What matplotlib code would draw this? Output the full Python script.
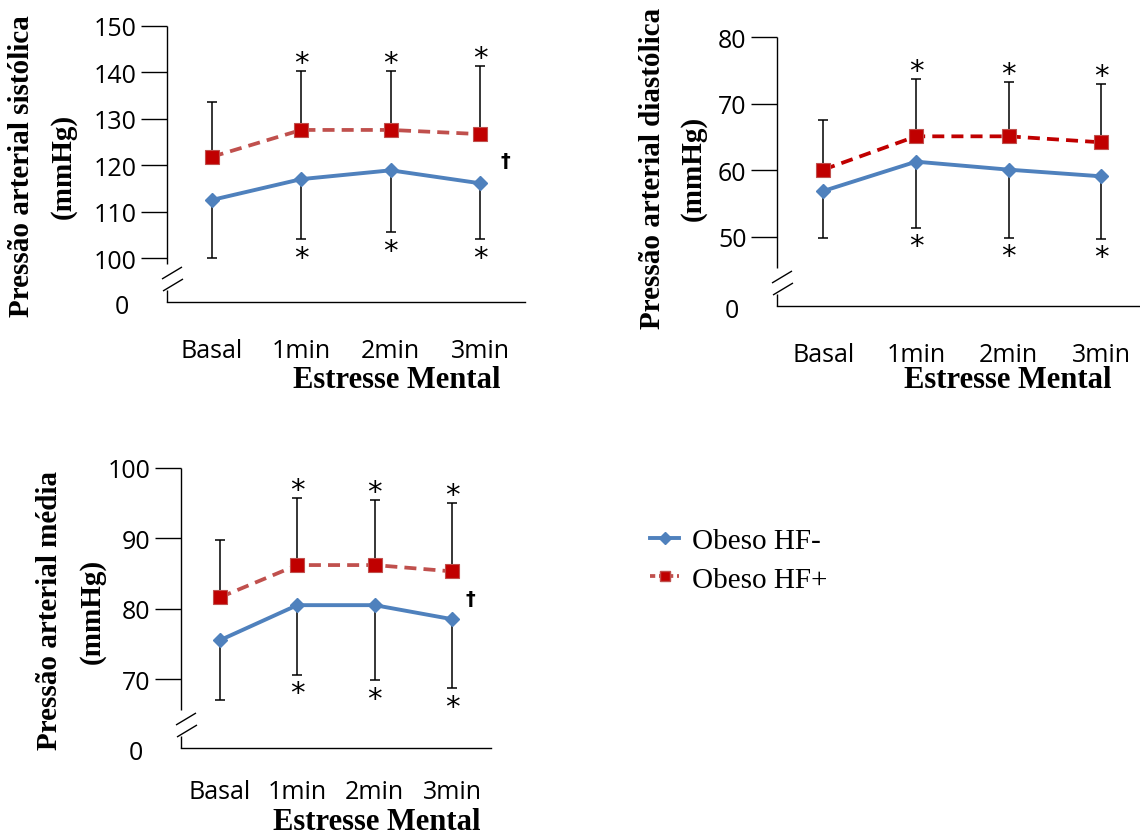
import matplotlib
matplotlib.use("Agg")
import matplotlib.pyplot as plt
import numpy as np
from matplotlib.lines import Line2D

# ---- data ----
categories = ["Basal", "1min", "2min", "3min"]
series_names = ["Obeso HF-", "Obeso HF+"]

sys_neg = [112.5, 117.0, 118.9, 116.1]
sys_neg_sd = [12.5, 13.0, 13.4, 12.1]
sys_pos = [121.8, 127.6, 127.6, 126.7]
sys_pos_sd = [11.8, 12.8, 12.8, 14.6]
sys_ticks = [100, 110, 120, 130, 140, 150]

dia_neg = [56.9, 61.3, 60.1, 59.1]
dia_neg_sd = [7.1, 9.9, 10.2, 9.4]
dia_pos = [60.1, 65.1, 65.1, 64.2]
dia_pos_sd = [7.5, 8.6, 8.1, 8.7]
dia_ticks = [50, 60, 70, 80]

pam_neg = [75.5, 80.5, 80.5, 78.5]
pam_neg_sd = [8.5, 9.9, 10.7, 9.8]
pam_pos = [81.6, 86.2, 86.2, 85.3]
pam_pos_sd = [8.1, 9.6, 9.2, 9.7]
pam_ticks = [70, 80, 90, 100]

# significance marks: * vs basal, † between groups
star_flags = [False, True, True, True]

BLUE = "#4F81BD"
RED_LINE = "#C0504D"
RED_DARK = "#C00000"

SERIF = ["Liberation Serif", "DejaVu Serif"]
SANS = ["Open Sans", "DejaVu Sans"]

W, H = 1140, 837
fig = plt.figure(figsize=(W / 100, H / 100), dpi=100)


def add_axes_px(l, t, r, b):
    return fig.add_axes([l / W, 1 - b / H, (r - l) / W, (b - t) / H])


def fig_xy(px, py):
    return px / W, 1 - py / H


def px_line(ax, xs, ys):
    bb = ax.get_position()
    wpx, hpx = bb.width * W, bb.height * H
    ax.plot(np.array(xs) / wpx, np.array(ys) / hpx, transform=ax.transAxes,
            color="black", lw=1.0, clip_on=False, solid_capstyle="butt")


def sd_bar(ax, x, mean, end):
    # one-sided SD bar: stem from the mean, cap at the far end only
    ax.vlines(x, mean, end, color="black", lw=1.1, zorder=2)
    ax.plot(x, end, ls="none", marker="_", ms=7, mew=1.1, color="black", zorder=2)


def draw_panel(rect, xlim, ylim, neg, neg_sd, pos, pos_sd, ticks, ylabel,
               label_px, title_px, red_line, dagger=None, xpad=26):
    ax = add_axes_px(*rect)
    x = np.arange(len(categories))
    pos_top = np.array(pos) + np.array(pos_sd)
    neg_bot = np.array(neg) - np.array(neg_sd)

    sd_bar(ax, x, pos, pos_top)
    sd_bar(ax, x, neg, neg_bot)

    ax.plot(x, neg, color=BLUE, lw=2.8, marker="D", ms=7.5,
            markerfacecolor=BLUE, markeredgecolor=BLUE, zorder=3)
    ax.plot(x, pos, color=red_line, lw=2.7, dashes=(3.2, 1.9), marker="s", ms=10,
            markerfacecolor=RED_DARK, markeredgecolor=RED_LINE, markeredgewidth=0.8,
            zorder=4)

    # asterisks above / below the SD bars
    for i in range(len(x)):
        if star_flags[i]:
            ax.annotate("*", (x[i], pos_top[i]), xytext=(0, 0),
                        textcoords="offset points", ha="center", va="baseline",
                        fontsize=21, family=["DejaVu Sans"])
            ax.annotate("*", (x[i], neg_bot[i]), xytext=(0, -19),
                        textcoords="offset points", ha="center", va="baseline",
                        fontsize=21, family=["DejaVu Sans"])
    if dagger is not None:
        ax.text(dagger[0], dagger[1], "\u2020", ha="center", va="center",
                fontsize=14, fontweight="bold", family=["DejaVu Sans"])

    ax.set_xlim(*xlim)
    ax.set_ylim(*ylim)
    ax.set_xticks(x, categories)
    ax.set_yticks(ticks)
    for lab in ax.get_xticklabels() + ax.get_yticklabels():
        lab.set_family(SANS)
        lab.set_fontsize(18)
    ax.tick_params(axis="x", length=0, pad=xpad)
    ax.tick_params(axis="y", length=19, width=1.0, pad=3, direction="out")

    for side in ("top", "right", "left"):
        ax.spines[side].set_visible(False)
    ax.spines["bottom"].set_linewidth(1.0)

    # broken y axis
    bb = ax.get_position()
    hpx = bb.height * H
    px_line(ax, [0, 0], [38, hpx])
    px_line(ax, [0, 0], [0, 12])
    px_line(ax, [-5, 15], [23, 35])
    px_line(ax, [-4, 16], [11, 23])
    ax.annotate("0", (0, 0), xycoords="axes fraction", xytext=(-27, -3),
                textcoords="offset points", ha="right", va="center",
                fontsize=18, family=SANS)

    lx1, lx2, ly = label_px
    fig.text(*fig_xy(lx1, ly), ylabel, rotation=90, ha="center", va="center",
             fontsize=21, fontweight="bold", family=SERIF)
    fig.text(*fig_xy(lx2, ly), "(mmHg)", rotation=90, ha="center", va="center",
             fontsize=21, fontweight="bold", family=SERIF)
    fig.text(*fig_xy(*title_px), "Estresse Mental", ha="center", va="center",
             fontsize=22, fontweight="bold", family=SERIF)
    return ax


draw_panel((167, 27, 525, 303), (-0.5, 3.5), (90.52, 150),
           sys_neg, sys_neg_sd, sys_pos, sys_pos_sd, sys_ticks,
           "Pressão arterial sistólica", (22, 63, 166), (397, 381), RED_LINE,
           dagger=(3.28, 121.0))

draw_panel((777, 38, 1140, 307), (-0.5, 3.416), (39.65, 80),
           dia_neg, dia_neg_sd, dia_pos, dia_pos_sd, dia_ticks,
           "Pressão arterial diastólica", (653, 693, 168), (1008, 381), RED_DARK)

draw_panel((181, 469, 491, 749), (-0.5, 3.5), (60.19, 100),
           pam_neg, pam_neg_sd, pam_pos, pam_pos_sd, pam_ticks,
           "Pressão arterial média", (50, 92, 611), (377, 823), RED_LINE,
           dagger=(3.23, 81.4), xpad=22)

handles = [
    Line2D([], [], color=BLUE, lw=2.8, marker="D", ms=6.5),
    Line2D([], [], color=RED_LINE, lw=2.7, dashes=(1.4, 1.0), marker="s", ms=7.5,
           markerfacecolor=RED_DARK, markeredgecolor=RED_LINE),
]
fig.legend(handles, series_names, loc="upper left", bbox_to_anchor=fig_xy(650, 529),
           frameon=False, handlelength=1.0, handletextpad=0.45, labelspacing=0.4,
           borderpad=0, borderaxespad=0, prop={"family": SERIF, "size": 21})

fig.savefig("out.png", dpi=100)
